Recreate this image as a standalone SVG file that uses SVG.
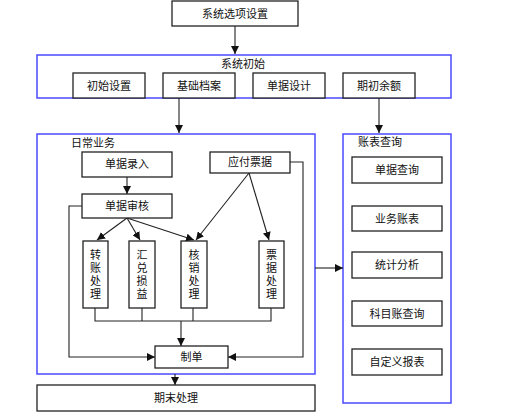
<svg xmlns="http://www.w3.org/2000/svg" width="510" height="414" viewBox="0 0 510 414">
<defs>
<style>
.t{font-family:"Liberation Serif","Noto Sans CJK SC",serif;font-size:11px;fill:#111;text-anchor:middle;dominant-baseline:central}
.tl{text-anchor:start}
.bx{fill:#fff;stroke:#222;stroke-width:1.3}
.bl{fill:none;stroke:#4a4aff;stroke-width:1.5}
.ln{fill:none;stroke:#222;stroke-width:1.1}
</style>
<marker id="ah" viewBox="0 0 10 10" refX="10" refY="5" markerWidth="8" markerHeight="8" markerUnits="userSpaceOnUse" orient="auto">
<path d="M0,0L10,5L0,10z" fill="#111"/>
</marker>
</defs>
<g id="containers">
<rect id="sysinit" class="bl" x="37" y="55" width="414" height="43"/>
<text class="t" x="243" y="64">系统初始</text>
<rect id="daily" class="bl" x="37" y="134" width="278" height="240"/>
<text class="t tl" x="71" y="143">日常业务</text>
<rect id="query" class="bl" x="343" y="134" width="108" height="269"/>
<text class="t tl" x="358" y="142">账表查询</text>
</g>
<g id="connectors">
<line class="ln" x1="235" y1="26" x2="235" y2="54" marker-end="url(#ah)"/>
<line class="ln" x1="179" y1="98" x2="179" y2="133" marker-end="url(#ah)"/>
<line class="ln" x1="379" y1="98" x2="379" y2="133" marker-end="url(#ah)"/>
<line class="ln" x1="127" y1="177" x2="127" y2="194" marker-end="url(#ah)"/>
<line class="ln" x1="127" y1="218" x2="97" y2="240" marker-end="url(#ah)"/>
<line class="ln" x1="127" y1="218" x2="140" y2="240" marker-end="url(#ah)"/>
<line class="ln" x1="127" y1="218" x2="194" y2="240" marker-end="url(#ah)"/>
<line class="ln" x1="249" y1="173" x2="196" y2="240" marker-end="url(#ah)"/>
<line class="ln" x1="249" y1="173" x2="269" y2="240" marker-end="url(#ah)"/>
<polyline class="ln" points="82,206 69,206 69,357 155,357" marker-end="url(#ah)"/>
<polyline class="ln" points="290,162 303,162 303,357 228,357" marker-end="url(#ah)"/>
<polyline class="ln" points="95,308 95,321 271,321 271,308"/>
<line class="ln" x1="142" y1="308" x2="142" y2="321"/>
<line class="ln" x1="193" y1="308" x2="193" y2="321"/>
<line class="ln" x1="181" y1="321" x2="181" y2="346" marker-end="url(#ah)"/>
<line class="ln" x1="175" y1="374" x2="175" y2="385" marker-end="url(#ah)"/>
<line class="ln" x1="315" y1="268" x2="343" y2="268" marker-end="url(#ah)"/>
</g>
<g id="n-options"><rect class="bx" x="172" y="1" width="126" height="25"/><text class="t" x="235" y="14">系统选项设置</text></g>
<g id="n-initset"><rect class="bx" x="73" y="73" width="72" height="25"/><text class="t" x="109" y="86">初始设置</text></g>
<g id="n-archive"><rect class="bx" x="163" y="73" width="72" height="25"/><text class="t" x="199" y="86">基础档案</text></g>
<g id="n-design"><rect class="bx" x="253" y="73" width="72" height="25"/><text class="t" x="289" y="86">单据设计</text></g>
<g id="n-balance"><rect class="bx" x="343" y="73" width="72" height="25"/><text class="t" x="379" y="86">期初余额</text></g>
<g id="n-entry"><rect class="bx" x="82" y="152" width="90" height="25"/><text class="t" x="127" y="164">单据录入</text></g>
<g id="n-payable"><rect class="bx" x="210" y="152" width="80" height="21"/><text class="t" x="250" y="162">应付票据</text></g>
<g id="n-audit"><rect class="bx" x="82" y="194" width="90" height="24"/><text class="t" x="127" y="206">单据审核</text></g>
<g id="n-transfer"><rect class="bx" x="83" y="241" width="25" height="67"/><text class="t" x="95.5" y="255">转</text><text class="t" x="95.5" y="268">账</text><text class="t" x="95.5" y="281">处</text><text class="t" x="95.5" y="294">理</text></g>
<g id="n-exchange"><rect class="bx" x="129" y="241" width="26" height="67"/><text class="t" x="142" y="255">汇</text><text class="t" x="142" y="268">兑</text><text class="t" x="142" y="281">损</text><text class="t" x="142" y="294">益</text></g>
<g id="n-writeoff"><rect class="bx" x="181" y="241" width="26" height="67"/><text class="t" x="194" y="255">核</text><text class="t" x="194" y="268">销</text><text class="t" x="194" y="281">处</text><text class="t" x="194" y="294">理</text></g>
<g id="n-bill"><rect class="bx" x="259" y="241" width="25" height="67"/><text class="t" x="271.5" y="255">票</text><text class="t" x="271.5" y="268">据</text><text class="t" x="271.5" y="281">处</text><text class="t" x="271.5" y="294">理</text></g>
<g id="n-voucher"><rect class="bx" x="155" y="346" width="73" height="22"/><text class="t" x="191.5" y="357">制单</text></g>
<g id="n-period"><rect class="bx" x="37" y="385" width="278" height="26"/><text class="t" x="176" y="398">期末处理</text></g>
<g id="n-q1"><rect class="bx" x="352" y="157" width="90" height="26"/><text class="t" x="397" y="170">单据查询</text></g>
<g id="n-q2"><rect class="bx" x="352" y="206" width="90" height="25"/><text class="t" x="397" y="218.5">业务账表</text></g>
<g id="n-q3"><rect class="bx" x="352" y="252" width="90" height="26"/><text class="t" x="397" y="265">统计分析</text></g>
<g id="n-q4"><rect class="bx" x="352" y="301" width="90" height="25"/><text class="t" x="397" y="313.5">科目账查询</text></g>
<g id="n-q5"><rect class="bx" x="352" y="349" width="90" height="26"/><text class="t" x="397" y="362">自定义报表</text></g>
</svg>
